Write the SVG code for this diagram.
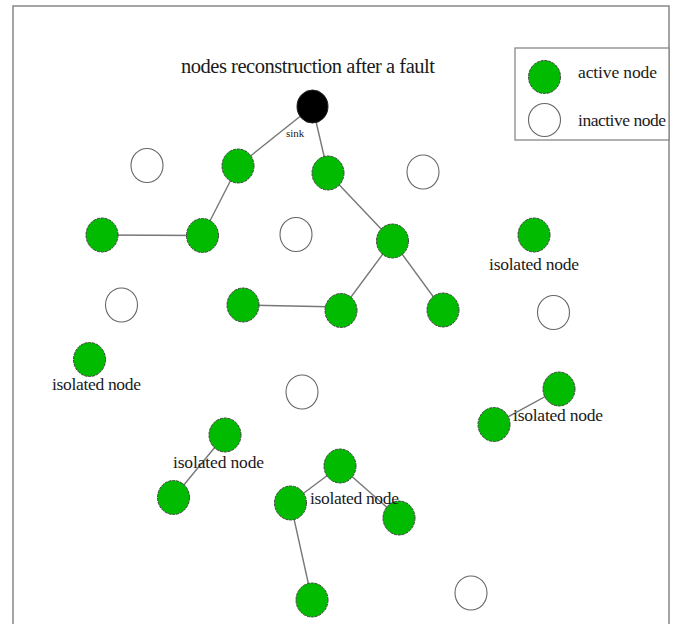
<svg xmlns="http://www.w3.org/2000/svg" width="677" height="624" viewBox="0 0 677 624">
<style>
.act{fill:#00bb00;stroke:#444;stroke-width:1;stroke-dasharray:3 1}
.ina{fill:#fff;stroke:#666;stroke-width:1.1}
.snk{fill:#000;stroke:#222;stroke-width:1}
.edge{stroke:#777;stroke-width:1.4;fill:none}
.frame{stroke:#888;stroke-width:1.5;fill:none}
text{font-family:"Liberation Serif","Times New Roman",serif;fill:#1a1a1a}
.lbl{font-size:17.5px}
</style>
<rect width="677" height="624" fill="#fff"/>
<path class="frame" d="M13,624 V6 H669 V624"/>
<g id="legend">
<rect x="515" y="48" width="154" height="92" fill="#fff" stroke="#888" stroke-width="1.3"/>
<ellipse class="act" cx="544.5" cy="77" rx="16" ry="16.5"/>
<ellipse class="ina" cx="544.5" cy="120" rx="16" ry="16.5"/>
<text class="lbl" x="578" y="78" textLength="79">active node</text>
<text class="lbl" x="578" y="126" textLength="88">inactive node</text>
</g>
<text id="title" x="181" y="73" font-size="20.5" textLength="254">nodes reconstruction after a fault</text>
<g id="connectors">
<line class="edge" x1="312.5" y1="106.5" x2="238" y2="166"/>
<line class="edge" x1="312.5" y1="106.5" x2="328" y2="173"/>
<line class="edge" x1="238" y1="166" x2="202.5" y2="235.5"/>
<line class="edge" x1="102" y1="235" x2="202.5" y2="235.5"/>
<line class="edge" x1="328" y1="173" x2="392.5" y2="241"/>
<line class="edge" x1="392.5" y1="241" x2="341" y2="310.5"/>
<line class="edge" x1="392.5" y1="241" x2="443" y2="310"/>
<line class="edge" x1="243" y1="305" x2="341" y2="307"/>
<line class="edge" x1="559" y1="389" x2="494" y2="424.5"/>
<line class="edge" x1="225" y1="435" x2="173.5" y2="497.5"/>
<line class="edge" x1="340" y1="466" x2="290.5" y2="503"/>
<line class="edge" x1="340" y1="466" x2="399" y2="518"/>
<line class="edge" x1="290.5" y1="503" x2="312" y2="600"/>
</g>
<g id="sink"><ellipse class="snk" cx="312.5" cy="106.5" rx="15.5" ry="16.5"/><text x="286" y="137" font-size="11" fill="#444">sink</text></g>
<g id="n-a"><ellipse class="act" cx="238" cy="166" rx="16" ry="17"/></g>
<g id="n-b"><ellipse class="act" cx="328" cy="173" rx="16" ry="17"/></g>
<g id="n-c"><ellipse class="act" cx="102" cy="235" rx="16" ry="17"/></g>
<g id="n-d"><ellipse class="act" cx="202.5" cy="235.5" rx="16" ry="17"/></g>
<g id="n-e"><ellipse class="act" cx="392.5" cy="241" rx="16" ry="17"/></g>
<g id="n-f"><ellipse class="act" cx="534" cy="235" rx="16" ry="17"/><text class="lbl" x="489" y="270" textLength="90">isolated node</text></g>
<g id="n-g"><ellipse class="act" cx="243" cy="305" rx="16" ry="17"/></g>
<g id="n-h"><ellipse class="act" cx="341" cy="310.5" rx="16" ry="17"/></g>
<g id="n-i"><ellipse class="act" cx="443" cy="310" rx="16" ry="17"/></g>
<g id="n-j"><ellipse class="act" cx="89.5" cy="359.5" rx="16" ry="17"/><text class="lbl" x="52" y="390" textLength="89">isolated node</text></g>
<g id="n-k"><ellipse class="act" cx="559" cy="389" rx="16" ry="17"/></g>
<g id="n-l"><ellipse class="act" cx="494" cy="424.5" rx="16" ry="17"/></g>
<text class="lbl" x="513" y="421" textLength="90">isolated node</text>
<g id="n-m"><ellipse class="act" cx="225" cy="435" rx="16" ry="17"/></g>
<g id="n-n"><ellipse class="act" cx="173.5" cy="497.5" rx="16" ry="17"/></g>
<text class="lbl" x="173" y="468" textLength="91">isolated node</text>
<g id="n-o"><ellipse class="act" cx="340" cy="466" rx="16" ry="17"/></g>
<g id="n-p"><ellipse class="act" cx="290.5" cy="503" rx="16" ry="17"/></g>
<g id="n-q"><ellipse class="act" cx="399" cy="518" rx="16" ry="17"/></g>
<text class="lbl" x="310" y="504" textLength="89">isolated node</text>
<g id="n-r"><ellipse class="act" cx="312" cy="600" rx="16" ry="17"/></g>
<g id="i-1"><ellipse class="ina" cx="147" cy="165.5" rx="16" ry="17"/></g>
<g id="i-2"><ellipse class="ina" cx="423" cy="172" rx="16" ry="17"/></g>
<g id="i-3"><ellipse class="ina" cx="296" cy="234.5" rx="16" ry="17"/></g>
<g id="i-4"><ellipse class="ina" cx="121.5" cy="305" rx="16" ry="17"/></g>
<g id="i-5"><ellipse class="ina" cx="553.5" cy="312.5" rx="16" ry="17"/></g>
<g id="i-6"><ellipse class="ina" cx="302" cy="392" rx="16" ry="17"/></g>
<g id="i-7"><ellipse class="ina" cx="471" cy="593" rx="16" ry="17"/></g>
</svg>
